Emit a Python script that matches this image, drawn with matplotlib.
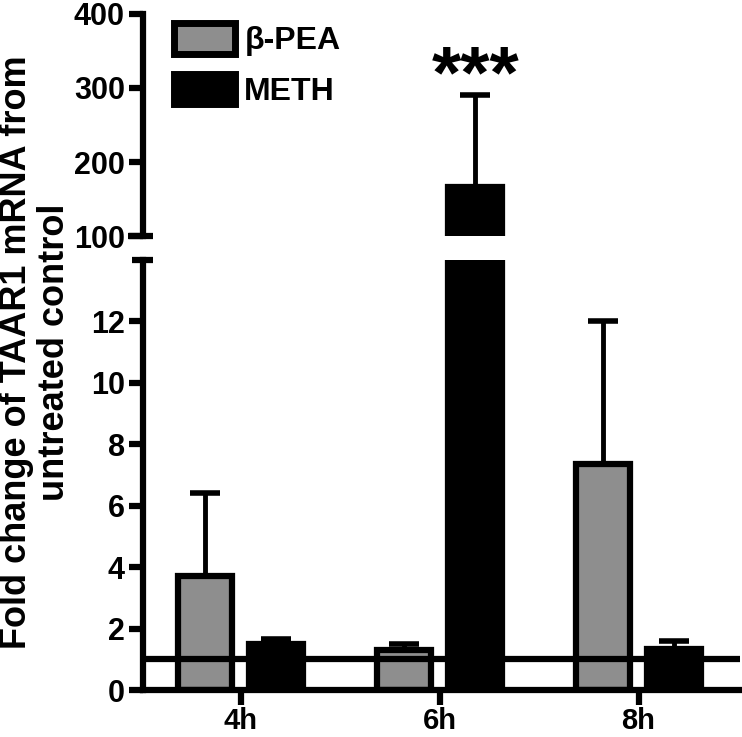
import matplotlib
matplotlib.use('Agg')
import matplotlib.pyplot as plt
import numpy as np

plt.rcParams['font.family'] = ['Liberation Sans', 'DejaVu Sans']
plt.rcParams['font.weight'] = 'bold'

# Data
TIMES = ['4h', '6h', '8h']
PEA_MEAN = [3.7, 1.3, 7.35]
PEA_ERR = [2.7, 0.2, 4.65]
METH_MEAN = [1.5, 166, 1.35]
METH_ERR = [0.15, 125, 0.25]
SERIES = ['β-PEA', 'METH']
BASELINE = 1.0
TOP_TICKS = [100, 200, 300, 400]
BOTTOM_TICKS = [0, 2, 4, 6, 8, 10, 12]

GREY = '#8e8e8e'
LW = 4.5
W, H = 742, 737

fig = plt.figure(figsize=(W / 100, H / 100), dpi=100)
ax_top = fig.add_axes([143 / W, 1 - 236 / H, (740 - 143) / W, 222 / H])
ax_bot = fig.add_axes([143 / W, 1 - 690 / H, (740 - 143) / W, 430 / H])

x = np.arange(len(TIMES))
width = 0.27
offset = 0.18

for ax in (ax_top, ax_bot):
    ax.bar(x - offset, PEA_MEAN, width, color=GREY, edgecolor='black', linewidth=LW, zorder=2)
    ax.bar(x + offset, METH_MEAN, width, color='black', edgecolor='black', linewidth=LW, zorder=2)
    ax.errorbar(x - offset, PEA_MEAN, yerr=[np.zeros(3), PEA_ERR], fmt='none', ecolor='black',
                elinewidth=3.5, capsize=11, capthick=4, zorder=1)
    ax.errorbar(x + offset, METH_MEAN, yerr=[np.zeros(3), METH_ERR], fmt='none', ecolor='black',
                elinewidth=3.5, capsize=11, capthick=4, zorder=1)
    ax.axhline(BASELINE, color='black', linewidth=LW, zorder=3)
    ax.set_xlim(-0.49, 2.51)
    for s in ['top', 'right']:
        ax.spines[s].set_visible(False)
    ax.spines['left'].set_linewidth(LW)
    ax.spines['bottom'].set_linewidth(LW)
    ax.tick_params(width=LW, length=10, labelsize=22, pad=3)

ax_top.set_ylim(100, 400)
ax_top.set_yticks(TOP_TICKS)
ax_top.spines['bottom'].set_visible(False)
ax_top.set_xticks([])

ax_bot.set_ylim(0, 14)
ax_bot.set_yticks(BOTTOM_TICKS)
ax_bot.set_xticks(x)
ax_bot.set_xticklabels(TIMES)
ax_bot.tick_params(axis='x', length=11, pad=1, labelsize=21)

# break marks on the y axis
ax_top.plot([-0.025, 0.016], [0, 0], transform=ax_top.transAxes, color='black',
            linewidth=LW, clip_on=False, solid_capstyle='butt')
ax_bot.plot([-0.018, 0.016], [1, 1], transform=ax_bot.transAxes, color='black',
            linewidth=LW, clip_on=False, solid_capstyle='butt')

# significance
ax_top.text(x[1] + offset, METH_MEAN[1] + METH_ERR[1] - 24, '***', ha='center', va='bottom',
            fontsize=54, fontweight='bold')

# legend
handles = [plt.Rectangle((0, 0), 1, 1, facecolor=GREY, edgecolor='black', linewidth=LW + 0.5),
           plt.Rectangle((0, 0), 1, 1, facecolor='black', edgecolor='black', linewidth=LW + 0.5)]
ax_top.legend(handles, SERIES, loc='upper left', bbox_to_anchor=(0.052, 0.96), frameon=False,
              fontsize=23, handlelength=1.9, handleheight=1.1, handletextpad=0.3,
              labelspacing=0.55, borderpad=0, borderaxespad=0)

fig.text(0.048, 0.522, 'Fold change of TAAR1 mRNA from\nuntreated control', rotation=90,
         ha='center', va='center', multialignment='center', fontsize=26, fontweight='bold',
         linespacing=1.12)

fig.savefig('out.png', dpi=100)
